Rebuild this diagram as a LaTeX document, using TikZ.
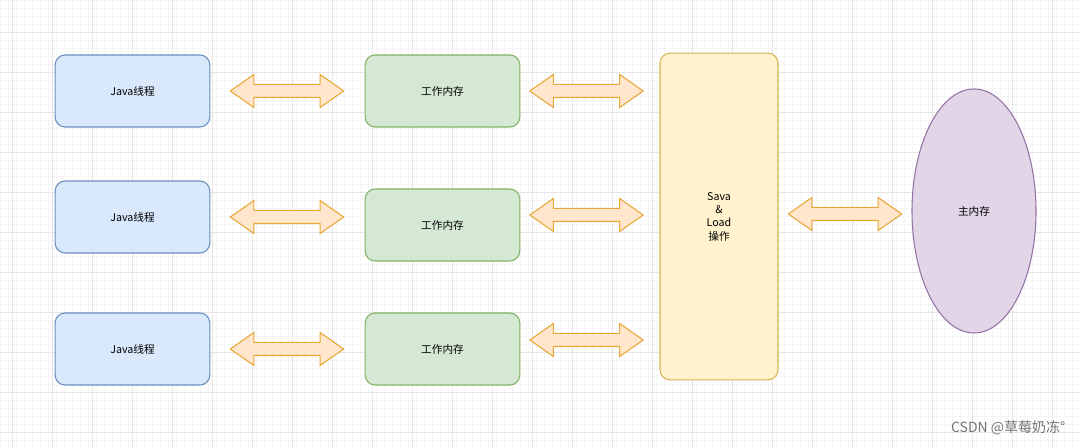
\documentclass[tikz,border=0pt]{standalone}
\usepackage{fontspec}
\setmainfont{Noto Sans CJK SC}
\usetikzlibrary{shapes.geometric,shapes.arrows}
\definecolor{bf}{HTML}{DAE8FC}\definecolor{bd}{HTML}{6C8EBF}
\definecolor{gf}{HTML}{D5E8D4}\definecolor{gd}{HTML}{82B366}
\definecolor{yf}{HTML}{FFF2CC}\definecolor{yd}{HTML}{D6B656}
\definecolor{pf}{HTML}{E1D5E7}\definecolor{pd}{HTML}{9673A6}
\definecolor{af}{HTML}{FFE6CC}\definecolor{ad}{HTML}{E8A838}
\begin{document}
\begin{tikzpicture}[x=0.75pt,y=-0.75pt,
  box/.style={draw,rounded corners=7.5pt,line width=0.8pt,minimum width=116pt,minimum height=54pt,font=\fontsize{8}{10}\selectfont},
  jb/.style={box,fill=bf,draw=bd},
  gb/.style={box,fill=gf,draw=gd},
  dar/.style={double arrow,draw=ad,fill=af,line width=0.8pt,minimum height=85pt,minimum width=24pt,
     inner sep=0pt,text height=0pt,text depth=0pt,inner ysep=4.5pt,double arrow head extend=7.5pt,double arrow tip angle=70}]
\useasboundingbox (0,0) rectangle (1080,448);
\fill[white] (0,0) rectangle (1080,448);
\draw[black!4,line width=0.3pt,step=8*0.75pt] (0,0) grid (1080*0.75pt,-448*0.75pt);
\foreach \x in {0,40,...,1080} \draw[black!10,line width=0.4pt] (\x+12,0) -- (\x+12,448);
\foreach \y in {0,40,...,440} \draw[black!10,line width=0.4pt] (0,\y+32) -- (1080,\y+32);
\node[jb] (j1) at (132.5,91) {Java线程};
\node[jb] (j2) at (132.5,217) {Java线程};
\node[jb] (j3) at (132.5,349) {Java线程};
\node[gb] (g1) at (442.5,91) {工作内存};
\node[gb] (g2) at (442.5,225) {工作内存};
\node[gb] (g3) at (442.5,349) {工作内存};
\node[box,fill=yf,draw=yd,minimum width=88.5pt,minimum height=245pt,align=center] (s) at (719,216.5) {Sava\\\&\\Load\\操作};
\node[ellipse,draw=pd,fill=pf,line width=0.8pt,minimum width=93pt,minimum height=183pt,font=\fontsize{8}{10}\selectfont] (m) at (974,211) {主内存};
\node[dar] (a1) at (287,91) {};
\node[dar] (a2) at (287,217) {};
\node[dar] (a3) at (287,349) {};
\node[dar] (b1) at (586.5,91) {};
\node[dar] (b2) at (586.5,215) {};
\node[dar] (b3) at (586.5,340) {};
\node[dar] (c1) at (845,214) {};
\node[text=black!55,font=\fontsize{10.5}{12}\selectfont,anchor=east] (w) at (1070,428) {CSDN @草莓奶冻°};
\end{tikzpicture}
\end{document}
